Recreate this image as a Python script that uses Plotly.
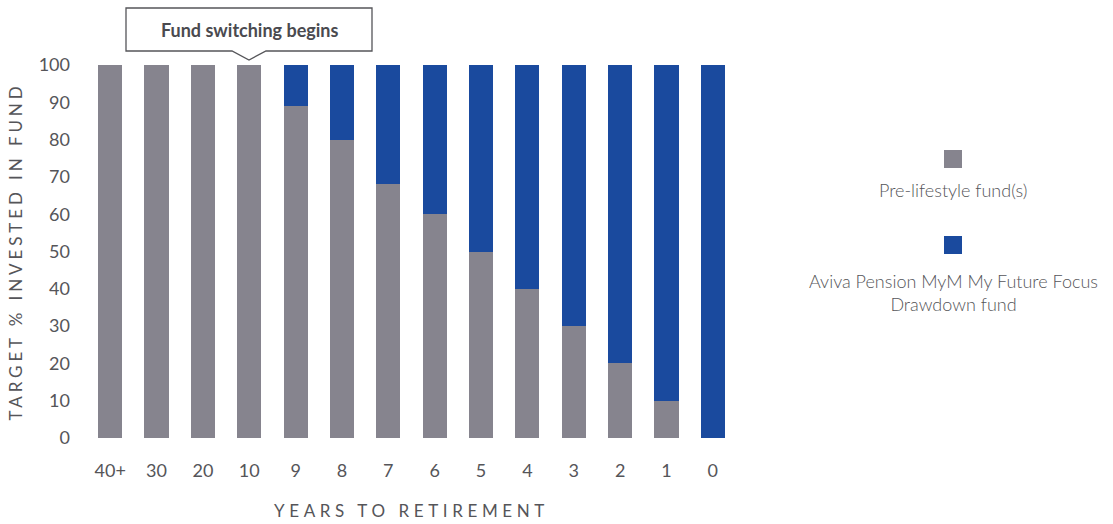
import plotly.graph_objects as go

categories = ["40+", "30", "20", "10", "9", "8", "7", "6", "5", "4", "3", "2", "1", "0"]
pre_lifestyle = [100, 100, 100, 100, 89, 80, 68, 60, 50, 40, 30, 20, 10, 0]
drawdown = [0, 0, 0, 0, 11, 20, 32, 40, 50, 60, 70, 80, 90, 100]
series_names = ["Pre-lifestyle fund(s)", "Aviva Pension MyM My Future Focus<br>Drawdown fund"]
y_ticks = [0, 10, 20, 30, 40, 50, 60, 70, 80, 90, 100]

GRAY = "#86848e"
BLUE = "#1a4a9e"
TXT = "#555559"
FONT = "Lato"

fig = go.Figure()
fig.add_trace(go.Bar(x=categories, y=pre_lifestyle, name=series_names[0],
                     marker=dict(color=GRAY, line=dict(width=0))))
fig.add_trace(go.Bar(x=categories, y=drawdown, name=series_names[1],
                     marker=dict(color=BLUE, line=dict(width=0))))

W, H = 1113, 524
L, R, T, B = 87, 736, 65, 438
pw, ph = R - L, B - T

def px(x):
    return (x - L) / pw

def py(y):
    return (B - y) / ph

shapes = []
# callout box with pointer
bx0, bx1, by0, by1 = 126, 372, 8, 51
tip_x, tip_y, base_half = 249, 60, 17
path = (f"M {px(bx0)},{py(by0)} L {px(bx1)},{py(by0)} L {px(bx1)},{py(by1)} "
        f"L {px(tip_x + base_half)},{py(by1)} L {px(tip_x)},{py(tip_y)} "
        f"L {px(tip_x - base_half)},{py(by1)} L {px(bx0)},{py(by1)} Z")
shapes.append(dict(type="path", xref="paper", yref="paper", path=path,
                   line=dict(color="#555559", width=1.3), fillcolor="white", layer="above"))
# legend squares
for cy, col in [(159, GRAY), (245, BLUE)]:
    shapes.append(dict(type="rect", xref="paper", yref="paper",
                       x0=px(944), x1=px(962), y0=py(cy + 9), y1=py(cy - 9),
                       fillcolor=col, line=dict(width=0)))

annotations = [
    dict(text="<b>Fund switching begins</b>", xref="paper", yref="paper",
         x=px(249), y=py(29.5), showarrow=False, font=dict(family=FONT, size=18, color="#4a4a4f"),
         xanchor="center", yanchor="middle"),
    dict(text=series_names[0], xref="paper", yref="paper", x=px(953), y=py(190),
         showarrow=False, font=dict(family=FONT, size=18, color=TXT, weight=300),
         xanchor="center", yanchor="middle"),
    dict(text=series_names[1], xref="paper", yref="paper", x=px(953), y=py(292),
         showarrow=False, font=dict(family=FONT, size=18, color=TXT, weight=300),
         xanchor="center", yanchor="middle", align="center"),
]

fig.update_layout(
    barmode="stack",
    bargap=0.48,
    width=W, height=H,
    margin=dict(l=L, r=W - R, t=T, b=H - B, pad=0, autoexpand=False),
    paper_bgcolor="white", plot_bgcolor="white",
    showlegend=False,
    font=dict(family=FONT, color=TXT, size=17),
    shapes=shapes,
    annotations=annotations,
    xaxis=dict(
        type="category", showgrid=False, showline=False, zeroline=False, ticks="", automargin=False,
        tickfont=dict(family=FONT, size=18, color=TXT), ticklabelstandoff=20,
        title=dict(text="YEARS TO RETIREMENT", font=dict(family=FONT, size=17, color=TXT), standoff=25),
    ),
    yaxis=dict(
        range=[0, 100], tickvals=y_ticks, showgrid=False, showline=False, zeroline=False, ticks="",
        automargin=False,
        tickfont=dict(family=FONT, size=18, color=TXT), ticklabelstandoff=16,
        title=dict(text="TARGET % INVESTED IN FUND", font=dict(family=FONT, size=17, color=TXT), standoff=11),
    ),
)

post = (
    "document.body.style.margin='0';document.body.style.overflow='hidden';"
    "document.querySelectorAll('.g-xtitle text').forEach(function(t){t.style.letterSpacing='4.6px';});"
    "document.querySelectorAll('.g-ytitle text').forEach(function(t){t.style.letterSpacing='3.9px';});"
)
fig.write_html("out.html", post_script=post, config={"displayModeBar": False})
